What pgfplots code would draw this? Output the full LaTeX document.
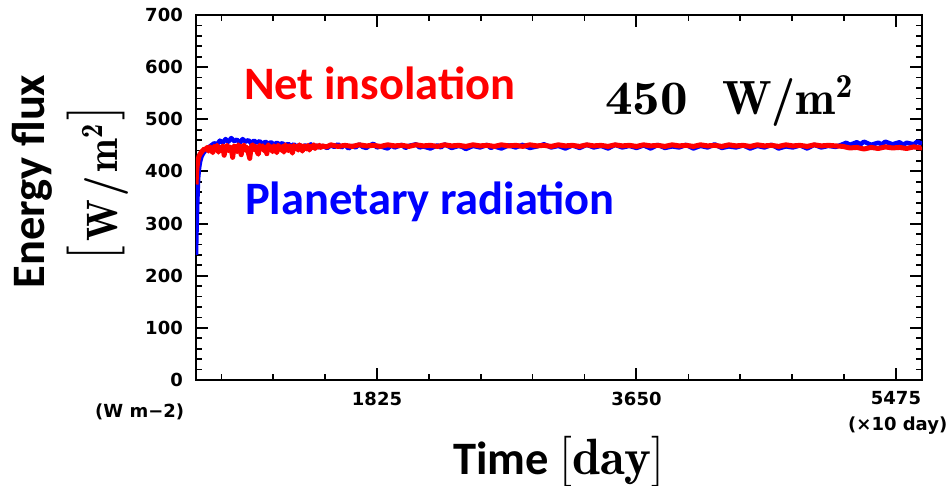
\RequirePackage{fix-cm}
\documentclass[border=0pt]{standalone}
\usepackage[no-math]{fontspec}
\usepackage{graphicx}
\setmainfont{Carlito}
\newfontfamily\dvs{DejaVu Sans}
\newcommand\lmr{\fontfamily{lmr}\selectfont}
\usepackage{pgfplots}
\pgfplotsset{compat=1.18}

\begin{document}
\begin{tikzpicture}[x=1pt,y=1pt]
\begin{axis}[
  at={(0pt,0pt)}, anchor=south west, scale only axis,
  width=726pt, height=365pt,
  xmin=552, xmax=5658, ymin=0, ymax=700,
  xtick={1825,3650,5475}, xticklabels={1825,3650,5475},
  minor xtick={730,1095,1460,2190,2555,2920,3285,4015,4380,4745,5110},
  ytick={0,100,...,700}, minor y tick num=4,
  tick align=inside, tick pos=both,
  major tick length=12pt, minor tick length=6pt,
  tick style={line width=2pt, black},
  minor tick style={line width=1.6pt},
  axis line style={line width=2.6pt},
  ticklabel style={font=\dvs\bfseries\fontsize{18}{18}\selectfont, inner sep=0pt},
  xticklabel style={yshift=-11.5pt},
  yticklabel style={xshift=-13pt},
  /pgf/number format/assume math mode=true,
]
\addplot[blue, line width=4.5pt, line join=round] coordinates {
(552,240) (556,290) (560,330) (564,365) (568,390) (573,405) (580,418) (590,428)
(601,434) (620,441) (640,446) (660,450) (680,454) (700,452) (720,459) (740,455)
(760,462) (780,457) (800,464) (820,458) (840,461) (860,455) (880,462) (900,457)
(920,460) (940,454) (960,459) (980,455) (1000,458) (1020,452) (1040,457) (1060,453)
(1080,456) (1100,451) (1120,455) (1140,452) (1160,454) (1180,449) (1200,453) (1220,448)
(1240,452) (1260,447) (1280,451) (1300,446) (1320,450) (1340,447) (1360,452) (1380,445)
(1400,450) (1420,446) (1440,449)
(1475,445) (1500,450) (1525,447) (1550,452) (1575,446) (1600,451) (1625,444) (1650,449)
(1675,446) (1700,452) (1725,447) (1750,445) (1775,450) (1800,453) (1825,446) (1850,448)
(1900,444) (1925,450) (1950,446) (2000,451) (2025,445) (2050,449) (2100,452) (2125,446)
(2150,448) (2200,444) (2250,450) (2275,446) (2300,452) (2350,445) (2400,449) (2425,447)
(2450,443) (2500,449) (2550,446) (2600,451) (2625,445) (2650,448) (2700,444) (2750,450)
(2800,446) (2850,451) (2900,445) (2950,448) (3000,452) (3050,446) (3100,449) (3150,444)
(3200,450) (3250,445) (3300,451) (3350,446) (3400,449) (3450,444) (3500,451) (3550,446)
(3600,449) (3650,445) (3700,450) (3750,444) (3800,451) (3850,445) (3900,448) (3950,446)
(4000,451) (4050,444) (4100,449) (4150,446) (4200,452) (4250,445) (4300,448) (4350,446)
(4400,450) (4450,444) (4500,449) (4550,446) (4600,451) (4650,444) (4700,448) (4750,446)
(4800,450) (4850,444) (4900,451) (4950,446) (5000,449) (5050,447) (5100,452) (5125,455)
(5150,451) (5200,456) (5225,452) (5250,457) (5300,451) (5350,455) (5375,452) (5400,457)
(5450,452) (5500,456) (5525,451) (5550,455) (5600,452) (5625,457) (5658,453)
};
\addplot[red, line width=5pt, line join=round] coordinates {
(552,375) (555,392) (558,405) (562,415) (567,423) (573,429) (580,433) (590,437)
(600,440) (610,443) (620,442) (630,446) (640,439) (650,447) (660,443) (670,436)
(680,448) (690,444) (700,450) (710,437) (720,446) (730,441) (740,449) (750,431)
(760,445) (770,450) (780,440) (790,447) (800,443) (810,427) (820,449) (830,446)
(840,438) (850,451) (860,444) (870,432) (880,448) (890,450) (900,441) (910,446)
(920,436) (930,425) (940,447) (950,451) (960,442) (970,448) (980,439) (990,433)
(1000,450) (1010,445) (1020,449) (1030,440) (1040,446) (1050,434) (1060,451) (1070,443)
(1080,447) (1090,438) (1100,449) (1110,444) (1120,436) (1130,450) (1140,446) (1150,441)
(1160,448) (1170,437) (1180,451) (1190,445) (1200,440) (1210,449) (1220,446) (1230,435)
(1240,450) (1250,444) (1260,448) (1270,441) (1280,451) (1290,446) (1300,439) (1310,449)
(1320,447) (1330,443) (1340,450) (1350,441) (1360,448) (1370,446) (1380,451) (1390,444)
(1400,449) (1410,447) (1420,450) (1430,446) (1440,449)
(1470,447) (1500,451) (1550,448) (1600,450) (1650,448) (1700,451) (1750,449) (1800,450)
(1850,448) (1900,451) (1950,449) (2000,450) (2050,448) (2100,451) (2150,449) (2200,450)
(2250,448) (2300,451) (2350,449) (2400,450) (2450,448) (2500,451) (2550,449) (2600,450)
(2650,448) (2700,451) (2750,449) (2800,450) (2850,448) (2900,451) (2950,449) (3000,450)
(3050,448) (3100,451) (3150,449) (3200,450) (3250,448) (3300,451) (3350,449) (3400,450)
(3450,448) (3500,451) (3550,449) (3600,450) (3650,448) (3700,451) (3750,449) (3800,450)
(3850,448) (3900,451) (3950,449) (4000,450) (4050,448) (4100,451) (4150,449) (4200,450)
(4250,448) (4300,451) (4350,449) (4400,450) (4450,448) (4500,451) (4550,449) (4600,450)
(4650,448) (4700,451) (4750,449) (4800,450) (4850,448) (4900,451) (4950,449) (5000,450)
(5050,449) (5100,448) (5150,445) (5200,446) (5250,443) (5300,446) (5350,444) (5400,447)
(5450,445) (5500,446) (5550,444) (5600,447) (5650,445) (5658,446)
};
\end{axis}
% texts
\node[anchor=base west, inner sep=0pt, text=red, font=\bfseries\fontsize{46.5}{50}\selectfont] at (48,280) {Net insolation};
\node[anchor=base west, inner sep=0pt, text=blue, font=\bfseries\fontsize{46.5}{50}\selectfont] at (49,165) {Planetary radiation};
\node[anchor=base west, inner sep=0pt, font=\fontsize{48}{50}\selectfont] at (409,265) {\lmr\bfseries\scalebox{1.15}[1]{450}\hspace{34pt}W/m\textsuperscript{2}};
\node[anchor=base west, inner sep=0pt, font=\bfseries\fontsize{46.5}{50}\selectfont] at (257,-95) {Time\hspace{11pt}{\lmr\fontsize{51}{51}\selectfont\mdseries[\bfseries day\mdseries]}};
\node[anchor=base, inner sep=0pt, rotate=90, font=\bfseries\fontsize{46.5}{50}\selectfont] at (-151,198.5) {Energy flux};
\node[anchor=base, inner sep=0pt, rotate=90, font=\bfseries\fontsize{44}{44}\selectfont] at (-78,197) {\lmr\raisebox{7.5pt}{\mdseries\fontsize{58}{58}\selectfont[}\hspace{4pt}\scalebox{0.92}[1]{\lmr\bfseries W\hspace{4pt}/\hspace{4pt}m\textsuperscript{2}}\hspace{4pt}\raisebox{7.5pt}{\mdseries\fontsize{58}{58}\selectfont]}};
\node[anchor=west, inner sep=0pt, font=\dvs\bfseries\fontsize{18}{18}\selectfont] at (-101,-32) {(W m\textminus 2)};
\node[anchor=west, inner sep=0pt, font=\dvs\bfseries\fontsize{18}{18}\selectfont] at (652,-46) {(×10 day)};
\pgfresetboundingbox
\path (-196,-106) rectangle (755,380);
\end{tikzpicture}
\end{document}
